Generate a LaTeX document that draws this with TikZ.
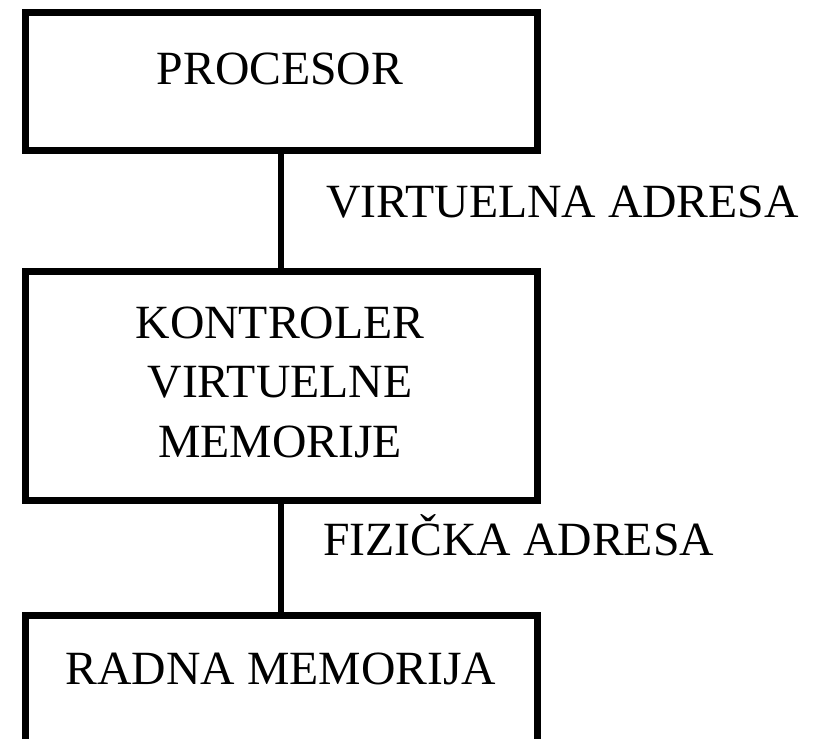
\documentclass[tikz,border=0pt]{standalone}
\usepackage{fontspec}
\setmainfont{Liberation Serif}
\tikzset{
  x=1pt,y=1pt,
  unitbox/.style={draw=black,line width=7pt,minimum width=512pt,inner sep=0pt,outer sep=0pt,line join=miter},
  lbl/.style={inner sep=0pt,font=\fontsize{47.7}{59}\selectfont},
  wire/.style={line width=6pt}
}
\begin{document}
\begin{tikzpicture}
\clip (0,0) rectangle (817,-739);
\fill[white] (0,0) rectangle (817,-739);
% boxes
\node[unitbox,minimum height=137.5pt] (proc) at (281,-81.25) {};
\node[unitbox,minimum height=228.5pt] (kvm) at (281,-385.75) {};
\node[unitbox,minimum height=185pt] (ram) at (281,-707.5) {};
% connectors
\draw[wire] (proc.south) -- (kvm.north);
\draw[wire] (kvm.south) -- (ram.north);
% texts
\node[lbl,anchor=base] (tproc) at (280,-84) {PROCESOR};
\node[lbl,anchor=base west] (tva) at (326,-217) {VIRTUELNA ADRESA};
\node[lbl,anchor=base] (tk1) at (280,-338) {KONTROLER};
\node[lbl,anchor=base] (tk2) at (280,-397.5) {VIRTUELNE};
\node[lbl,anchor=base] (tk3) at (280,-457) {MEMORIJE};
\node[lbl,anchor=base west] (tfa) at (323,-555) {FIZIČKA ADRESA};
\node[lbl,anchor=base] (tram) at (281,-684) {RADNA MEMORIJA};
\end{tikzpicture}
\end{document}
